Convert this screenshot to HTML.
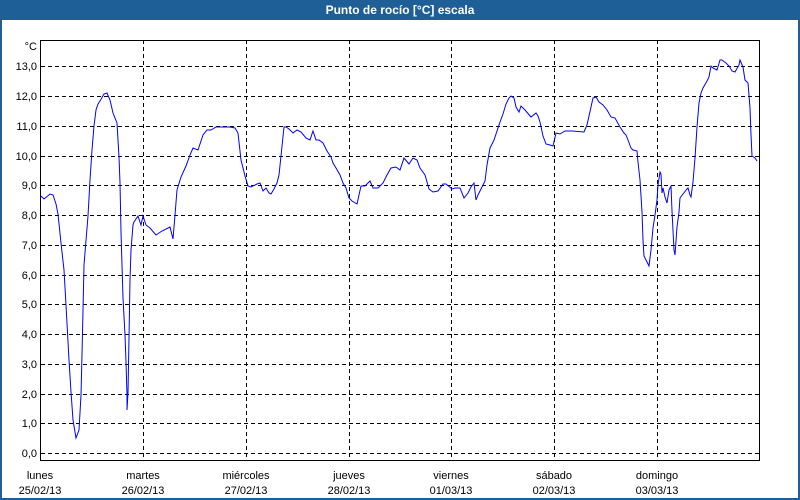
<!DOCTYPE html>
<html><head><meta charset="utf-8"><style>
body{margin:0;width:800px;height:500px;overflow:hidden;background:#fff;font-family:"Liberation Sans",sans-serif}
.win{position:absolute;left:0;top:0;width:796px;height:478px;border:2px solid #1d5f96;border-top:20px solid #1d5f96;}
.title{position:absolute;left:0;top:0;width:800px;height:20px;line-height:20px;text-align:center;color:#fff;font-weight:bold;font-size:12px}
</style></head><body>
<div class="win"></div>
<div class="title">Punto de rocío [°C] escala</div>
<svg width="800" height="500" style="position:absolute;left:0;top:0" font-family="Liberation Sans, sans-serif" font-size="11">
<g stroke="#000" stroke-dasharray="4,3" stroke-width="1">
<line x1="41" x2="760" y1="66.5" y2="66.5"/><line x1="41" x2="760" y1="96.5" y2="96.5"/><line x1="41" x2="760" y1="126.5" y2="126.5"/><line x1="41" x2="760" y1="156.5" y2="156.5"/><line x1="41" x2="760" y1="185.5" y2="185.5"/><line x1="41" x2="760" y1="215.5" y2="215.5"/><line x1="41" x2="760" y1="245.5" y2="245.5"/><line x1="41" x2="760" y1="275.5" y2="275.5"/><line x1="41" x2="760" y1="304.5" y2="304.5"/><line x1="41" x2="760" y1="334.5" y2="334.5"/><line x1="41" x2="760" y1="364.5" y2="364.5"/><line x1="41" x2="760" y1="394.5" y2="394.5"/><line x1="41" x2="760" y1="423.5" y2="423.5"/><line x1="41" x2="760" y1="453.5" y2="453.5"/>
<line x1="143.5" x2="143.5" y1="40" y2="460"/><line x1="246.5" x2="246.5" y1="40" y2="460"/><line x1="349.5" x2="349.5" y1="40" y2="460"/><line x1="451.5" x2="451.5" y1="40" y2="460"/><line x1="554.5" x2="554.5" y1="40" y2="460"/><line x1="657.5" x2="657.5" y1="40" y2="460"/>
</g>
<rect x="40.5" y="40.5" width="719" height="420" fill="none" stroke="#000"/>
<g text-anchor="end" fill="#000">
<text x="37" y="50">°C</text>
<text x="37" y="70">13,0</text><text x="37" y="100">12,0</text><text x="37" y="130">11,0</text><text x="37" y="160">10,0</text><text x="37" y="189">9,0</text><text x="37" y="219">8,0</text><text x="37" y="249">7,0</text><text x="37" y="279">6,0</text><text x="37" y="308">5,0</text><text x="37" y="338">4,0</text><text x="37" y="368">3,0</text><text x="37" y="398">2,0</text><text x="37" y="427">1,0</text><text x="37" y="457">0,0</text>
</g>
<g text-anchor="middle" fill="#000">
<text x="40" y="479">lunes</text><text x="40" y="494">25/02/13</text>
<text x="143" y="479">martes</text><text x="143" y="494">26/02/13</text>
<text x="246" y="479">miércoles</text><text x="246" y="494">27/02/13</text>
<text x="349" y="479">jueves</text><text x="349" y="494">28/02/13</text>
<text x="451" y="479">viernes</text><text x="451" y="494">01/03/13</text>
<text x="554" y="479">sábado</text><text x="554" y="494">02/03/13</text>
<text x="657" y="479">domingo</text><text x="657" y="494">03/03/13</text>
</g>
<polyline fill="none" stroke="#0000ff" stroke-width="1" points="41,196 44,199 50,194 53,195 56,204 58,214 61,243 64,270 66,305 69,360 71,392 73,420 75,432 76,438 79,430 81,395 82,355 84,265 88,216 90,180 92,150 94,126 96,110 98,104 100,101 104,94 107,93 110,100 113,113 117,123 119,157 120,183 121,232 123,298 125,335 126,362 127,395 127,410 128,393 129,338 130,280 131,250 133,225 134,222 138,216 141,225 143,216 146,225 150,228 156,235 162,231 170,227 173,239 175,215 177,190 181,177 186,166 190,155 193,148 198,150 203,135 207,130 211,130 216,127 230,127 235,128 238,133 241,160 245,176 248,186 251,187 257,184 260,183 263,191 266,188 269,193 271,194 274,189 277,183 279,175 281,156 284,127 286,127 289,129 293,133 297,130 301,132 306,138 310,140 313,131 316,140 319,140 323,143 327,151 331,157 333,163 336,168 340,175 343,183 346,188 349,198 352,201 357,204 361,186 365,186 370,181 373,188 378,188 383,183 387,175 391,168 396,167 400,170 404,158 409,164 413,158 417,160 420,168 425,175 429,189 433,192 438,191 443,184 446,184 452,189 455,188 460,188 464,198 468,193 471,187 474,183 476,200 478,195 482,187 485,181 487,165 490,148 494,140 497,131 500,122 503,114 506,104 509,98 511,96 514,98 516,107 519,112 521,106 525,110 531,117 536,113 538,116 540,122 543,136 546,144 550,145 553,146 556,133 560,134 565,131 572,131 584,132 587,125 589,116 593,98 596,97 599,102 603,105 607,110 611,117 615,118 620,127 624,133 626,135 628,140 631,148 633,150 637,151 638,162 640,180 642,212 643,240 644,256 646,260 649,266 651,250 653,228 655,215 657,200 658,185 660,172 661,174 662,193 663,188 665,197 667,203 669,190 671,186 672,211 674,250 675,255 677,227 679,212 680,198 683,194 687,189 688,188 690,195 691,197 693,182 695,158 697,127 699,103 701,93 703,88 707,81 709,77 711,66 713,68 717,70 720,60 722,60 726,63 729,66 732,71 735,72 739,65 740,60 743,67 745,80 748,83 750,108 751,135 752,156 755,158 757,161"/>
</svg>
</body></html>
